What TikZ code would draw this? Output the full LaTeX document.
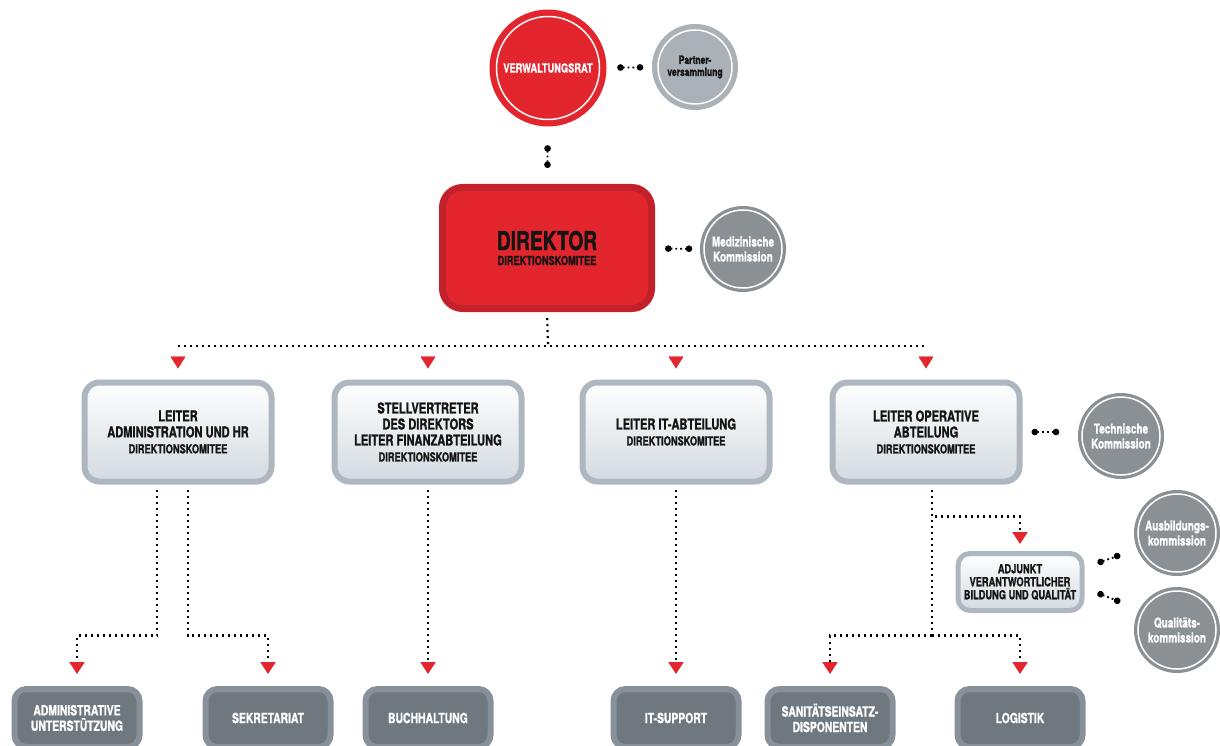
\documentclass[tikz,border=0pt]{standalone}
\usepackage{fontspec}
\setmainfont[FakeStretch=0.74, FakeBold=1.2]{TeX Gyre Heros}
\usetikzlibrary{positioning,arrows.meta}

\definecolor{rot}{HTML}{E3262E}
\definecolor{rotrand}{HTML}{C3212A}
\definecolor{grauhell}{HTML}{AAB1B7}
\definecolor{graudunkel}{HTML}{8B9095}
\definecolor{rahmen}{HTML}{AEB7C0}
\definecolor{verlauf}{HTML}{D3DAE0}
\definecolor{fuss}{HTML}{6F787F}
\definecolor{fussrand}{HTML}{88919A}
\definecolor{schrift}{HTML}{141414}

\newcommand{\komitee}{{\fontsize{12.5}{14}\selectfont DIREKTIONSKOMITEE}}

\tikzset{
  wrat/.style={circle, fill=rot, draw=white, line width=1.5pt, minimum size=103pt,
    inner sep=0pt, preaction={draw=rot, line width=14pt}, text=white,
    font=\bfseries\fontsize{12.5}{13}\selectfont},
  partner/.style={circle, fill=grauhell, draw=white, line width=1.5pt, minimum size=74pt,
    inner sep=0pt, align=center, preaction={draw=grauhell, line width=12pt}, text=schrift,
    font=\bfseries\fontsize{11.5}{12}\selectfont},
  kommission/.style={circle, fill=graudunkel, draw=white, line width=1.5pt,
    minimum size=78pt, inner sep=0pt, align=center, text=white,
    preaction={draw=graudunkel, line width=8pt},
    font=\bfseries\fontsize{13.5}{15}\selectfont},
  direktor/.style={rectangle, rounded corners=20pt, draw=rotrand, line width=7pt, fill=rot,
    minimum width=209pt, minimum height=121pt, align=center, text=schrift,
    font=\bfseries\fontsize{26}{15}\selectfont},
  leiter/.style={rectangle, rounded corners=15pt, draw=rahmen, line width=6pt,
    top color=white, bottom color=verlauf, minimum width=187pt, minimum height=99pt,
    align=center, text=schrift, font=\bfseries\fontsize{15}{16}\selectfont},
  adjunkt/.style={leiter, rounded corners=12pt, line width=5pt, minimum width=124pt,
    minimum height=57pt, font=\bfseries\fontsize{12.5}{13}\selectfont},
  stelle/.style={rectangle, rounded corners=12pt, draw=fussrand, line width=6pt,
    fill=fuss, minimum width=125pt, minimum height=58pt, align=center, text=white,
    font=\bfseries\fontsize{14}{15.5}\selectfont},
  punkte/.style={line width=2.2pt, dash pattern=on 2.2pt off 3.8pt},
  glied/.style={line width=1.8pt, dash pattern=on 1.8pt off 3pt,
    {Circle[length=6.5pt]}-{Circle[length=6.5pt]}},
  pfeil/.style={-{Triangle[length=12pt,width=15pt,color=rot]}, shorten >=12pt},
}

\begin{document}
\begin{tikzpicture}[x=1pt, y=-1pt]
  \useasboundingbox (0,0) rectangle (1220,746);
  \clip (0,0) rectangle (1220,746);
  \fill[white] (0,0) rectangle (1220,746);

  \node[wrat] (vr) at (548,68) {VERWALTUNGSRAT};
  \node[partner] (pv) at (695,67) {Partner-\\versammlung};
  \node[direktor] (dir) at (547,248) {DIREKTOR\\\komitee};
  \node[kommission] (med) at (743,249) {Medizinische\\Kommission};

  \node[leiter] (adm) at (178,432) {LEITER\\ADMINISTRATION UND HR\\\komitee};
  \node[leiter] (stv) at (428,432) {STELLVERTRETER\\DES DIREKTORS\\LEITER FINANZABTEILUNG\\\komitee};
  \node[leiter] (it) at (676,432) {LEITER IT-ABTEILUNG\\\komitee};
  \node[leiter] (op) at (926,432) {LEITER OPERATIVE\\ABTEILUNG\\\komitee};
  \node[kommission] (tk) at (1121,436) {Technische\\Kommission};

  \node[adjunkt] (adj) at (1020,582) {ADJUNKT\\VERANTWORTLICHER\\BILDUNG UND QUALITÄT};
  \node[kommission] (aus) at (1177,533) {Ausbildungs-\\kommission};
  \node[kommission] (qk) at (1177,630) {Qualitäts-\\kommission};

  \node[stelle] (au) at (77,718) {ADMINISTRATIVE\\UNTERSTÜTZUNG};
  \node[stelle] (sek) at (268,718) {SEKRETARIAT};
  \node[stelle] (buch) at (428,718) {BUCHHALTUNG};
  \node[stelle] (its) at (676,718) {IT-SUPPORT};
  \node[stelle] (san) at (830,718) {SANITÄTSEINSATZ-\\DISPONENTEN};
  \node[stelle] (log) at (1020,718) {LOGISTIK};

  \draw[glied, shorten <=17pt, shorten >=14pt] (vr) -- (pv);
  \draw[glied, shorten <=25pt, shorten >=16pt] (vr) -- (dir);
  \draw[glied, shorten <=10pt, shorten >=11pt] (dir) -- (med);
  \draw[glied, shorten <=9pt, shorten >=22pt] (op.east) -- (op.east -| tk.west);
  \draw[glied] ([shift={(13,-19)}]adj.east) -- ([shift={(-17,22)}]aus.west);
  \draw[glied] ([shift={(13,11)}]adj.east) -- ([shift={(-17,-28)}]qk.west);

  \coordinate (bus) at (548,346);
  \draw[punkte, shorten <=6pt] (dir.south) -- (bus);
  \draw[punkte] (adm.north |- bus) -- (op.north |- bus);
  \foreach \n in {adm,stv,it,op}
    \draw[pfeil, rot, shorten <=11pt, shorten >=11pt] (\n.north |- bus) -- (\n.north);

  \draw[punkte, pfeil] ([shift={(-21,5)}]adm.south) -- ++(0,146) -| (au.north);
  \draw[punkte, pfeil] ([shift={(10,5)}]adm.south) -- ++(0,146) -| (sek.north);
  \draw[punkte, pfeil] ([shift={(0,5)}]stv.south) -- (buch.north);
  \draw[punkte, pfeil] ([shift={(0,5)}]it.south) -- (its.north);
  \draw[punkte, pfeil, shorten >=7pt] ([shift={(6,5)}]op.south) -- ++(0,27) -| (adj.north);
  \draw[punkte] ([shift={(6,5)}]op.south) -- ++(0,146) coordinate (knick);
  \draw[punkte, pfeil] (knick) -| (san.north);
  \draw[punkte, pfeil] (knick) -| (log.north);
\end{tikzpicture}
\end{document}
